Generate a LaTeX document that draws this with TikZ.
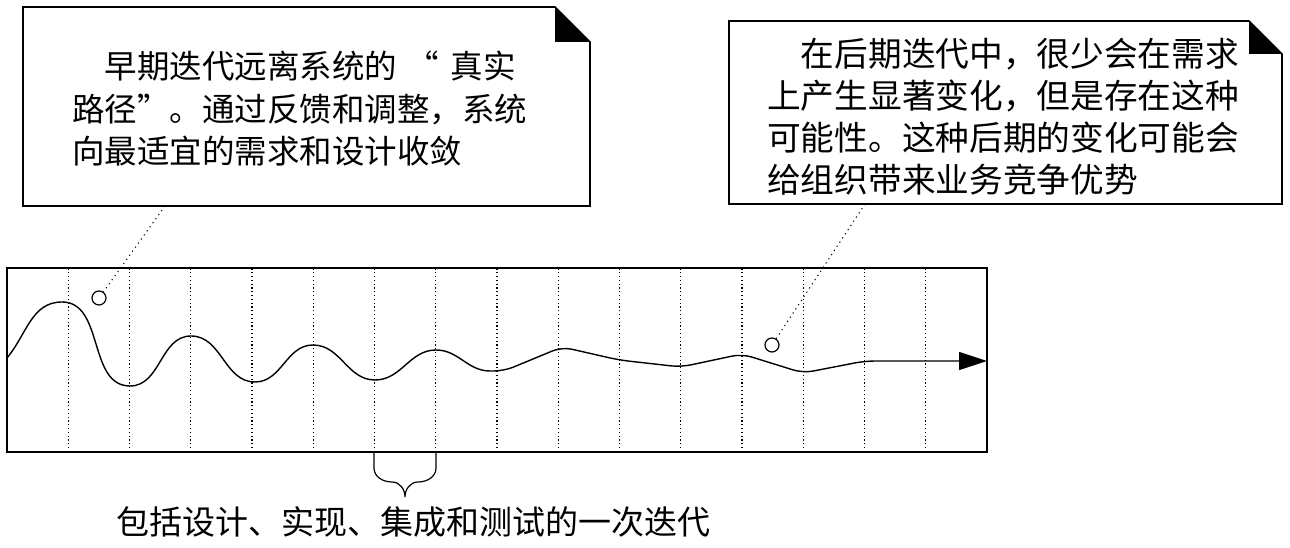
\documentclass[tikz,border=0pt]{standalone}
\usepackage{fontspec}
\newfontfamily\cjk{Noto Sans CJK SC}
\usepackage{tikz}
\usetikzlibrary{arrows.meta}
\tikzset{
  note/.style={line width=1.6pt, line join=miter},
  notetext/.style={anchor=north west, align=left, inner sep=0pt},
  gridline/.style={line width=1.1pt, dash pattern=on 1.2pt off 2.6pt},
  leader/.style={line width=1pt, dash pattern=on 1.2pt off 3.8pt},
  spot/.style={circle, draw, line width=1.2pt, minimum size=14pt, inner sep=0pt},
}

\begin{document}
\begin{tikzpicture}[x=1pt, y=1pt]
  \useasboundingbox (0,0) rectangle (1290,548);

  \draw[note] (23,342) -- (23,541) -- (555,541) -- (590,506) -- (590,342) -- cycle;
  \fill (555,541) -- (590,506) -- (555,506) -- cycle;
  \node[notetext, font=\cjk\fontsize{32.5}{42.5}\selectfont] (early) at (72,497)
    {\hspace*{1em}早期迭代远离系统的\hspace{0.3em}“\hspace{0.35em}真实\\路径”。通过反馈和调整，系统\\向最适宜的需求和设计收敛};

  \draw[note] (729,344) -- (729,527) -- (1249,527) -- (1282,494) -- (1282,344) -- cycle;
  \fill (1249,527) -- (1282,494) -- (1249,494) -- cycle;
  \node[notetext, font=\cjk\fontsize{33.7}{42}\selectfont] (late) at (767,510)
    {\hspace*{1em}在后期迭代中，很少会在需求\\上产生显著变化，但是存在这种\\可能性。这种后期的变化可能会\\给组织带来业务竞争优势};

  \draw[note] (7,96) rectangle (987,280);
  \foreach \i in {1,...,15}
    \draw[gridline] ({7+61.25*\i},96) -- ({7+61.25*\i},280);

  \draw[line width=1.4pt, -{Triangle[length=28pt,width=18pt]}]
    (7,190) to[out=50,in=180] (62,246) to[out=0,in=180] (130,162)
    to[out=0,in=180] (191,212) to[out=0,in=180] (255,166)
    to[out=0,in=180] (313,203) to[out=0,in=180] (375,168)
    to[out=0,in=180] (436,198) to[out=0,in=180] (490,177)
    [rounded corners=10pt] -- (504,177) -- (562,201) -- (619,188) -- (681,181)
    -- (742,194) -- (803,175) -- (865,187) -- (987,187);

  \node[spot] (c1) at (99,250) {};
  \node[spot] (c2) at (772,203) {};
  \coordinate (l1) at (165,342);
  \coordinate (l2) at (865,344);
  \draw[leader] (l1) -- (c1);
  \draw[leader] (l2) -- (c2);

  \draw[line width=1.2pt] (374,95) -- (374,80) to[out=-90,in=180] (392,66)
    to[out=0,in=90] (405,51) to[out=90,in=180] (418,66)
    to[out=0,in=-90] (436,80) -- (436,95);
  \node[font=\cjk\fontsize{33}{40}\selectfont] (iter) at (413,26)
    {包括设计、实现、集成和测试的一次迭代};
\end{tikzpicture}
\end{document}
